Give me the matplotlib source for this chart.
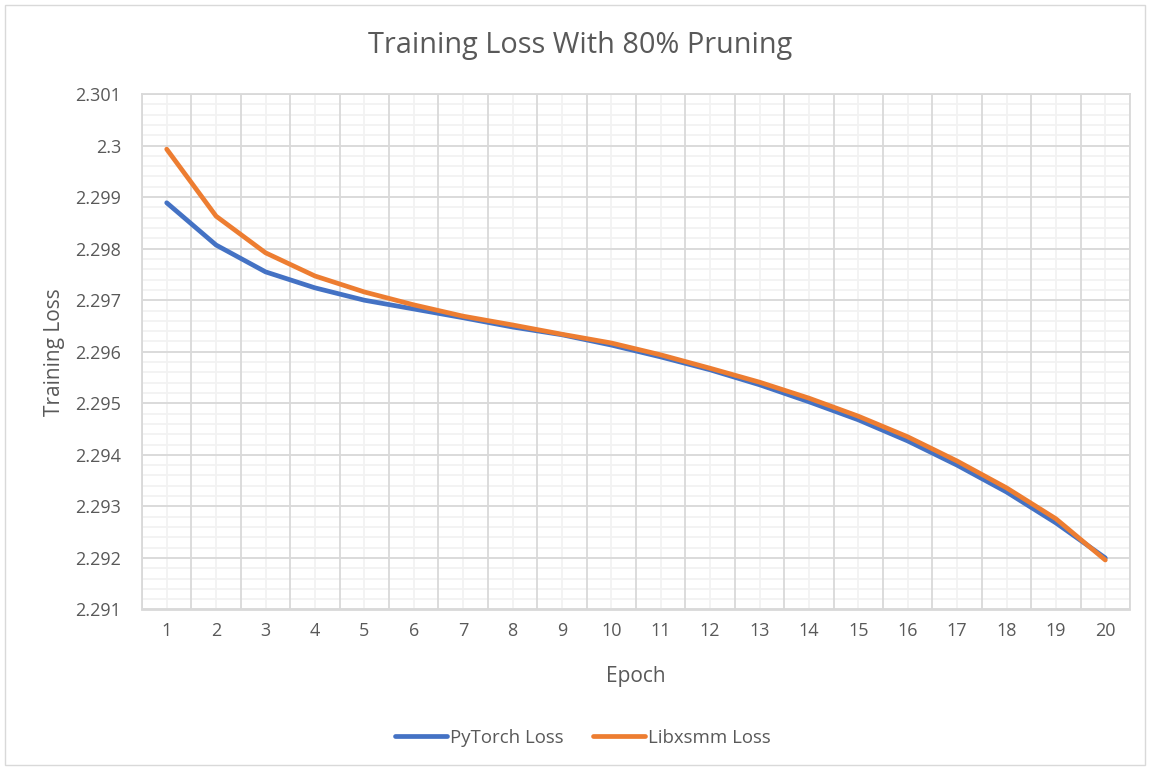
import matplotlib
matplotlib.use("Agg")
import matplotlib.pyplot as plt
import numpy as np
from matplotlib.patches import FancyBboxPatch

epochs = list(range(1, 21))
pytorch_loss = [2.29889, 2.29807, 2.29755, 2.29724, 2.29700, 2.29683, 2.29666, 2.29648,
                2.29633, 2.29613, 2.29590, 2.29565, 2.29536, 2.29503, 2.29468, 2.29427,
                2.29380, 2.29328, 2.29268, 2.29200]
libxsmm_loss = [2.29993, 2.29863, 2.29792, 2.29747, 2.29716, 2.29691, 2.29669, 2.29652,
                2.29634, 2.29617, 2.29594, 2.29568, 2.29541, 2.29510, 2.29475, 2.29435,
                2.29388, 2.29336, 2.29276, 2.29196]
y_ticks = [2.291, 2.292, 2.293, 2.294, 2.295, 2.296, 2.297, 2.298, 2.299, 2.3, 2.301]
y_labels = ["2.291", "2.292", "2.293", "2.294", "2.295", "2.296", "2.297", "2.298", "2.299", "2.3", "2.301"]

plt.rcParams['font.family'] = ['Open Sans', 'DejaVu Sans']
txt = '#595959'

fig = plt.figure(figsize=(11.51, 7.69), dpi=100)
W, H = 1151, 769
left, right, top, bottom = 142, 1130, 94, 609.5
ax = fig.add_axes([left / W, 1 - bottom / H, (right - left) / W, (bottom - top) / H])

# chart border
fig.patches.append(FancyBboxPatch((5 / W, 4 / H), (1140) / W, (760) / H,
                                  boxstyle="square,pad=0", transform=fig.transFigure,
                                  fill=False, edgecolor='#D9D9D9', linewidth=1.0))

ax.plot(epochs, pytorch_loss, color='#4472C4', linewidth=3.4, solid_capstyle='round',
        label='PyTorch Loss', zorder=3)
ax.plot(epochs, libxsmm_loss, color='#ED7D31', linewidth=3.4, solid_capstyle='round',
        label='Libxsmm Loss', zorder=4)

ax.set_xlim(0.5, 20.5)
ax.set_ylim(2.291, 2.301)
ax.set_xticks(epochs)
ax.set_xticklabels([str(e) for e in epochs])
ax.set_yticks(y_ticks)
ax.set_yticklabels(y_labels)

# grid: vertical major at category boundaries, minor at categories
for xv in np.arange(0.5, 21, 1):
    ax.axvline(xv, color='#D9D9D9', linewidth=1.3, zorder=1)
for xv in epochs:
    ax.axvline(xv, color='#F2F2F2', linewidth=1.3, zorder=0.5)
for yv in np.arange(2.291, 2.3010001, 0.0002):
    ax.axhline(yv, color='#F2F2F2', linewidth=1.3, zorder=0.5)
for yv in y_ticks:
    ax.axhline(yv, color='#D9D9D9', linewidth=1.3, zorder=1)

ax.tick_params(axis='both', which='both', length=0, labelsize=13, labelcolor=txt)
ax.tick_params(axis='x', pad=9)
ax.tick_params(axis='y', pad=15)
for s in ax.spines.values():
    s.set_color('#D9D9D9')
    s.set_linewidth(1.3)

ax.set_xlabel('Epoch', fontsize=15, color=txt, labelpad=19)
ax.set_ylabel('Training Loss', fontsize=15, color=txt, labelpad=7)
fig.text(580 / W, 1 - 45 / H, 'Training Loss With 80% Pruning', fontsize=20.8, color=txt,
         ha='center', va='center')

leg = fig.legend(loc='center', bbox_to_anchor=(583 / W, 1 - 738 / H), ncol=2, frameon=False,
                 fontsize=13.4, handlelength=2.8, columnspacing=1.6, handletextpad=0.15)
for t in leg.get_texts():
    t.set_color(txt)

fig.savefig('out.png', dpi=100)
